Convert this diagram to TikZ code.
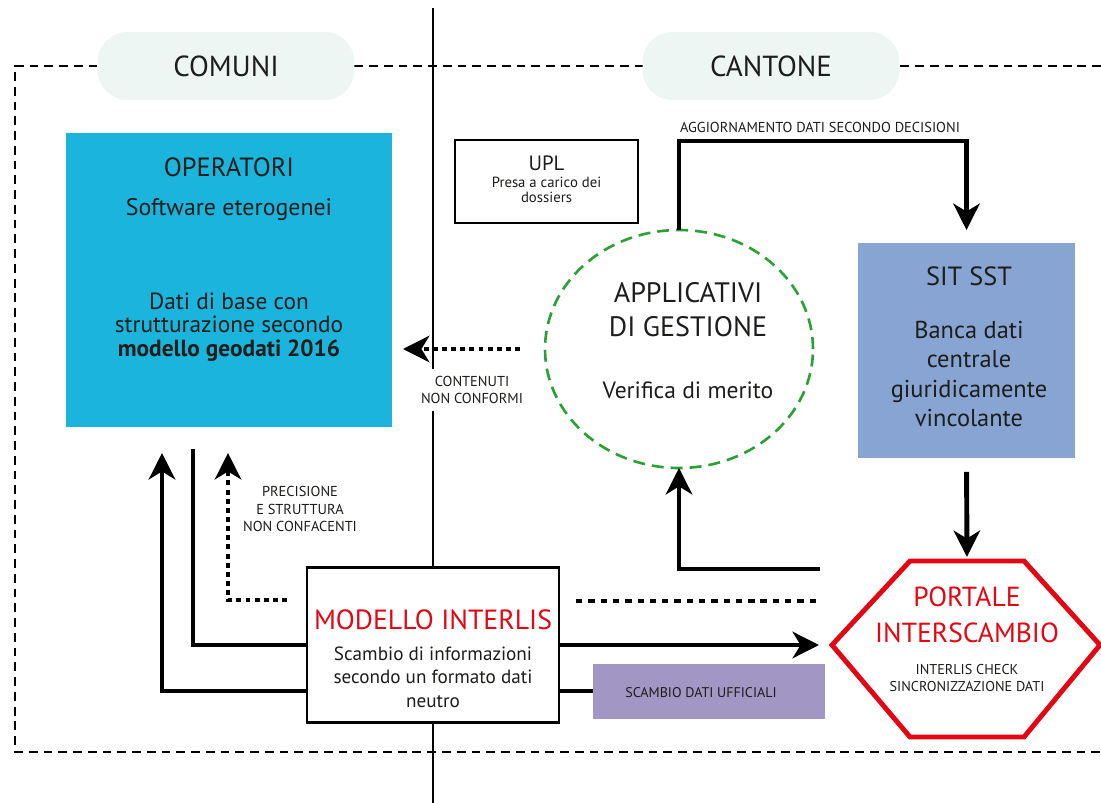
\documentclass[tikz,border=0pt]{standalone}
\usepackage{fontspec}
\setmainfont{PT Sans}
\usetikzlibrary{arrows.meta,shapes.geometric}

\definecolor{inkdark}{RGB}{29,29,27}
\definecolor{opblue}{RGB}{27,180,220}
\definecolor{sitblue}{RGB}{135,164,210}
\definecolor{pillgray}{RGB}{238,246,244}
\definecolor{portred}{RGB}{227,6,19}
\definecolor{scambioviola}{RGB}{162,150,196}
\definecolor{appgreen}{RGB}{43,160,55}

\begin{document}
\begin{tikzpicture}[x=0.02cm, y=-0.02cm,
    every node/.style={inner sep=0pt, outer sep=0pt, text=inkdark},
    pill/.style={fill=pillgray, rounded corners=0.6cm, minimum width=5.14cm, minimum height=1.36cm, font=\fontsize{16.5}{19}\selectfont},
    bigtxt/.style={font=\fontsize{16}{19}\selectfont, align=center},
    midtxt/.style={font=\fontsize{13.3}{13.4}\selectfont, align=center},
    smalltxt/.style={font=\fontsize{8.2}{10.2}\selectfont, align=center},
    arr/.style={line width=2.8pt, -{Stealth[length=15pt, width=15pt, inset=4.5pt]}},
    plainline/.style={line width=2.8pt},
    dotarr/.style={arr, dash pattern=on 2.8pt off 2.4pt},
    dotline/.style={line width=2.8pt, dash pattern=on 3.6pt off 3.4pt},
    outerframe/.style={line width=1.1pt, dash pattern=on 5pt off 3.4pt},
    boxline/.style={draw, line width=1.4pt, fill=white}]

    \useasboundingbox (0,0) rectangle (1101,803);

    % frame and divider
    \draw[outerframe] (1101,66) -- (15,66) -- (15,752) -- (1101,752);
    \coordinate (divtop) at (433,8);
    \coordinate (divbot) at (433,803);
    \draw[line width=1.3pt] (divtop) -- (divbot);

    \node[pill] (comuni) at (226,66) {COMUNI};
    \node[pill] (cantone) at (771,66) {CANTONE};

    % boxes
    \node[fill=opblue, minimum width=6.52cm, minimum height=5.88cm] (operatori) at (229,280) {};
    \node[bigtxt, font=\fontsize{15}{19}\selectfont] (operatori-title) at (229,167) {OPERATORI};
    \node[midtxt, font=\fontsize{13.6}{15}\selectfont] (operatori-sw) at (229,210) {Software eterogenei};
    \node[midtxt] (operatori-dati) at (229,327) {Dati di base con\\strutturazione secondo\\\textbf{modello geodati 2016}};

    \node[boxline, minimum width=3.66cm, minimum height=1.66cm] (upl) at (546.5,181.5) {};
    \node[font=\fontsize{11.8}{14}\selectfont] (upl-title) at (546.5,163) {UPL};
    \node[align=center, font=\fontsize{8.4}{8.8}\selectfont] (upl-txt) at (546.5,190) {Presa a carico dei\\dossiers};

    \node[ellipse, draw=appgreen, line width=1.5pt, dash pattern=on 6.8pt off 4pt, minimum width=5.36cm, minimum height=4.76cm] (app) at (679,349) {};
    \node[bigtxt, font=\fontsize{16}{19.3}\selectfont] (app-title) at (688,310) {APPLICATIVI\\DI GESTIONE};
    \node[midtxt, font=\fontsize{13.4}{15}\selectfont] (app-txt) at (688,390) {Verifica di merito};

    \node[fill=sitblue, minimum width=4.34cm, minimum height=4.3cm] (sit) at (966.5,350.5) {};
    \node[bigtxt, font=\fontsize{15}{19}\selectfont] (sit-title) at (969,276) {SIT SST};
    \node[midtxt, font=\fontsize{13.9}{16.7}\selectfont] (sit-txt) at (969,374) {Banca dati\\centrale\\giuridicamente\\vincolante};

    \node[boxline, minimum width=5.04cm, minimum height=3.1cm] (modello) at (433,645) {};
    \node[bigtxt, text=portred, font=\fontsize{15.8}{19}\selectfont] (modello-title) at (433,620) {MODELLO INTERLIS};
    \node[midtxt, font=\fontsize{10.9}{13.3}\selectfont] (modello-txt) at (433,677) {Scambio di informazioni\\secondo un formato dati\\neutro};

    \node[fill=scambioviola, minimum width=4.64cm, minimum height=1.1cm] (scambio) at (709,691) {};
    \node[smalltxt, font=\fontsize{8}{10}\selectfont] (scambio-txt) at (701,693) {SCAMBIO DATI UFFICIALI};

    % portale
    \coordinate (portW) at (832,645);
    \coordinate (portN) at (967,561);
    \draw[portred, line width=2.8pt, line join=miter] (portW) -- (910,561) -- (1024,561) -- (1100,645) -- (1024,737) -- (910,737) -- cycle;
    \node[bigtxt, text=portred, font=\fontsize{15.7}{20.4}\selectfont] (portale) at (967,615) {PORTALE\\INTERSCAMBIO};
    \node[smalltxt, font=\fontsize{8.1}{10.2}\selectfont] (portale-sub) at (967,678) {INTERLIS CHECK\\SINCRONIZZAZIONE DATI};

    % connectors
    \draw[arr, shorten >=0.26cm] (app.north) -- ++(0,-89) -| (sit.north);
    \node[smalltxt] (lbl-agg) at (820,127) {AGGIORNAMENTO DATI SECONDO DECISIONI};

    \draw[arr, shorten <=0.28cm, shorten >=0.08cm] (sit.south) -- (portN);

    \coordinate (retR) at (820,569);
    \draw[arr] (retR) -| (app.south);

    \coordinate (dotRa) at (576,601);
    \coordinate (dotRb) at (818,601);
    \draw[dotline] (dotRa) -- (dotRb);

    \draw[arr, shorten >=0.26cm] (modello.east) -- (portW);
    \draw[plainline] (modello.east |- scambio.west) -- (scambio.west);

    \coordinate (opC) at (193,449);
    \coordinate (inA) at (162,453);
    \coordinate (inB) at (228,453);
    \coordinate (dotL) at (287,600);
    \draw[plainline] (opC) |- (modello.west);
    \draw[arr] (modello.west |- scambio.west) -| (inA);
    \draw[dotarr] (dotL) -| (inB);
    \node[smalltxt] (lbl-prec) at (300,509) {PRECISIONE\\E STRUTTURA\\NON CONFACENTI};

    \draw[dotarr, shorten <=0.5cm, shorten >=0.22cm] (app.west) -- (app.west -| operatori.east);
    \node[smalltxt, fill=white, inner xsep=2pt, inner ysep=4pt, font=\fontsize{8.2}{9.4}\selectfont] (lbl-cont) at (472,390) {CONTENUTI\\NON CONFORMI};
\end{tikzpicture}
\end{document}
